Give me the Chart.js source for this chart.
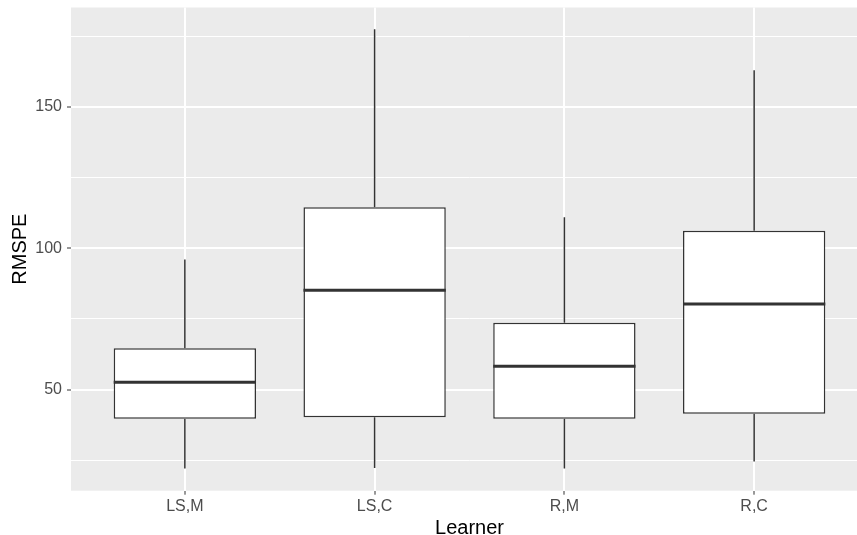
<!DOCTYPE html>
<html>
<head>
<meta charset="utf-8">
<script src="https://cdn.jsdelivr.net/npm/chart.js@4"></script>
<style>
  html, body { margin: 0; padding: 0; background: #fff; overflow: hidden; }
  #wrap { width: 878px; height: 535px; }
</style>
</head>
<body>
<div id="wrap"><canvas id="chart" width="878" height="535"></canvas></div>
<script>
// boxplot summary per learner
const categories = ['LS,M', 'LS,C', 'R,M', 'R,C'];
const lower  = [22.1, 22.2, 22.1, 24.5];
const q1     = [39.7, 40.2, 39.7, 41.4];
const median = [52.6, 85.1, 58.2, 80.3];
const q3     = [64.6, 114.5, 73.6, 106.2];
const upper  = [96.0, 177.5, 111.0, 163.0];

const yTicks = [25, 50, 75, 100, 125, 150, 175];
const yMajor = [50, 100, 150];

const PANEL = '#EBEBEB';
const INK = '#333333';
const isMajor = v => yMajor.indexOf(v) !== -1;

// panel background, whiskers and median lines
const boxplotPlugin = {
    id: 'boxplot',
    beforeDraw(chart) {
        const { ctx, chartArea: a } = chart;
        ctx.save();
        ctx.fillStyle = PANEL;
        ctx.fillRect(a.left, a.top, a.right - a.left, a.bottom - a.top);
        ctx.restore();
    },
    beforeDatasetsDraw(chart) {
        const { ctx } = chart;
        const x = chart.scales.x, y = chart.scales.y;
        ctx.save();
        ctx.strokeStyle = INK;
        ctx.lineWidth = 1.5;
        categories.forEach((c, i) => {
            const px = x.getPixelForValue(i + 1);
            ctx.beginPath();
            ctx.moveTo(px, y.getPixelForValue(lower[i]));
            ctx.lineTo(px, y.getPixelForValue(q1[i]));
            ctx.moveTo(px, y.getPixelForValue(q3[i]));
            ctx.lineTo(px, y.getPixelForValue(upper[i]));
            ctx.stroke();
        });
        ctx.restore();
    },
    afterDatasetsDraw(chart) {
        const { ctx } = chart;
        const y = chart.scales.y;
        const meta = chart.getDatasetMeta(0);
        ctx.save();
        ctx.strokeStyle = INK;
        ctx.lineWidth = 3;
        meta.data.forEach((bar, i) => {
            const py = y.getPixelForValue(median[i]);
            ctx.beginPath();
            ctx.moveTo(bar.x - bar.width / 2, py);
            ctx.lineTo(bar.x + bar.width / 2, py);
            ctx.stroke();
        });
        ctx.restore();
    }
};

const ctx = document.getElementById('chart').getContext('2d');
new Chart(ctx, {
    type: 'bar',
    data: {
        datasets: [{
            label: 'RMSPE',
            data: categories.map((c, i) => ({ x: i + 1, y: [q1[i], q3[i]] })),
            backgroundColor: '#ffffff',
            borderColor: INK,
            borderWidth: 1.5,
            borderSkipped: false,
            barPercentage: 0.75,
            categoryPercentage: 1
        }]
    },
    options: {
        responsive: false,
        devicePixelRatio: 1,
        animation: false,
        layout: { padding: { top: 7.5, right: 10, left: 0, bottom: 0 } },
        plugins: {
            legend: { display: false },
            tooltip: { enabled: false }
        },
        scales: {
            x: {
                type: 'linear',
                min: 0.4,
                max: 4.6,
                offset: false,
                afterBuildTicks: s => { s.ticks = categories.map((c, i) => ({ value: i + 1 })); },
                afterFit: s => { s.height = 44.3; s.paddingLeft = 0; s.paddingRight = 0; },
                border: { display: false },
                grid: {
                    offset: false,
                    color: '#ffffff',
                    lineWidth: 2,
                    tickLength: 4,
                    tickColor: INK,
                    tickWidth: 1
                },
                ticks: {
                    autoSkip: false,
                    maxRotation: 0,
                    padding: 2,
                    color: '#4D4D4D',
                    font: { family: 'Liberation Sans', size: 16 },
                    callback: v => categories[v - 1]
                },
                title: {
                    display: true,
                    text: 'Learner',
                    color: '#000000',
                    font: { family: 'Liberation Sans', size: 20, lineHeight: 1 },
                    padding: { top: 0, bottom: -3 }
                }
            },
            y: {
                min: 14.2,
                max: 185.2,
                afterBuildTicks: s => { s.ticks = yTicks.map(v => ({ value: v })); },
                afterFit: s => { s.width = 71; s.paddingTop = 0; s.paddingBottom = 0; },
                border: { display: false },
                grid: {
                    color: '#ffffff',
                    lineWidth: c => isMajor(c.tick.value) ? 2 : 1,
                    tickLength: 4,
                    tickColor: c => isMajor(c.tick.value) ? INK : 'rgba(0,0,0,0)',
                    tickWidth: 1
                },
                ticks: {
                    padding: 5,
                    color: '#4D4D4D',
                    font: { family: 'Liberation Sans', size: 16 },
                    callback: v => isMajor(v) ? String(v) : ''
                },
                title: {
                    display: true,
                    text: 'RMSPE',
                    color: '#000000',
                    font: { family: 'Liberation Sans', size: 20, lineHeight: 1 },
                    padding: { top: 10, bottom: 0 }
                }
            }
        }
    },
    plugins: [boxplotPlugin]
});
</script>
</body>
</html>
